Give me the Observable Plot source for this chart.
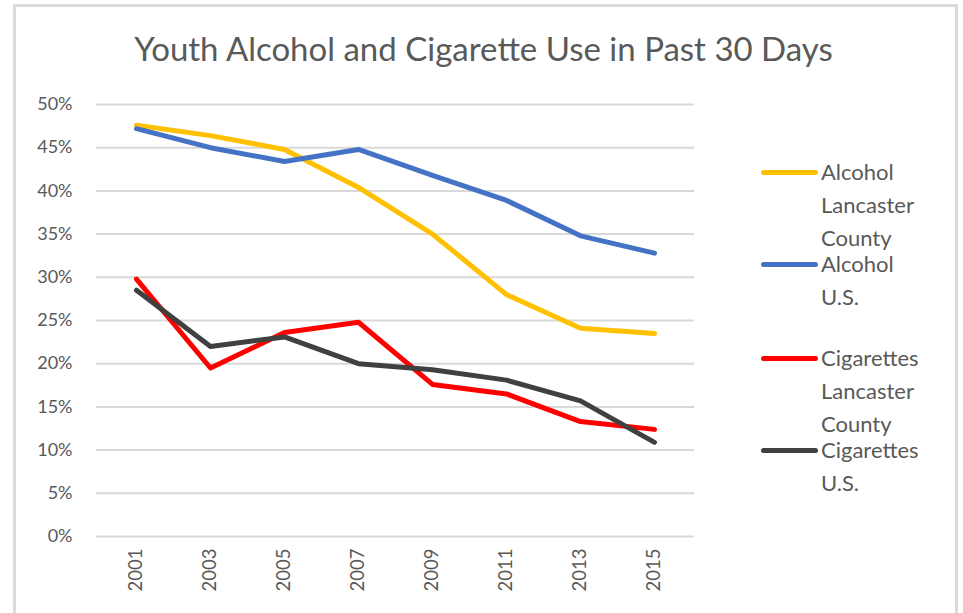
<!DOCTYPE html>
<html><head><meta charset="utf-8">
<script src="https://cdn.jsdelivr.net/npm/d3@7"></script>
<script src="https://cdn.jsdelivr.net/npm/@observablehq/plot@0.6"></script>
<style>
html,body{margin:0;padding:0;width:963px;height:613px;overflow:hidden;background:#fff;font-family:Lato,"Open Sans",sans-serif;}
#frame{position:absolute;left:13px;top:4px;width:939px;height:700px;border:3px solid #dadada;border-bottom:none;}
#title{position:absolute;left:2px;width:963px;top:32px;line-height:33px;text-align:center;font-size:33px;color:#595959;white-space:nowrap;}
#chart{position:absolute;left:0;top:0;}
.leg{position:absolute;left:761px;}
.leg .sw{position:absolute;left:0;width:57px;height:5px;border-radius:3px;}
.leg .tx{position:absolute;left:60px;font-size:22px;line-height:33px;color:#595959;white-space:pre;}
</style></head><body>
<div id="frame"></div>
<div id="chart"></div>
<div id="title">Youth Alcohol and Cigarette Use in Past 30 Days</div>
<div id="legend"></div>
<script>
const years = ["2001","2003","2005","2007","2009","2011","2013","2015"];
const alcoholLancaster = [47.6,46.4,44.8,40.4,35.0,28.0,24.1,23.5];
const alcoholUS = [47.2,45.0,43.4,44.8,41.8,38.9,34.8,32.8];
const cigarettesLancaster = [29.8,19.5,23.6,24.8,17.6,16.5,13.3,12.4];
const cigarettesUS = [28.5,22.0,23.1,20.0,19.3,18.1,15.7,10.9];
const seriesNames = ["Alcohol\nLancaster\nCounty","Alcohol\nU.S.","Cigarettes\nLancaster\nCounty","Cigarettes\nU.S."];
const seriesColors = ["#FFC000","#4472C4","#FF0000","#404040"];
const yTicks = [0,5,10,15,20,25,30,35,40,45,50];

const seriesValues = [alcoholLancaster, alcoholUS, cigarettesLancaster, cigarettesUS];
const data = [];
seriesNames.forEach((s,i)=>years.forEach((y,j)=>data.push({series:s, year:y, value:seriesValues[i][j]})));

const chart = Plot.plot({
  width:963, height:613,
  marginLeft:96, marginRight:269, marginTop:104, marginBottom:77,
  style:{fontFamily:"Lato, 'Open Sans', sans-serif", background:"transparent"},
  x:{type:"point", domain:years, padding:0.5},
  y:{domain:[0,50]},
  color:{domain:seriesNames, range:seriesColors},
  marks:[
    Plot.gridY(yTicks,{stroke:"#d9d9d9", strokeOpacity:1, strokeWidth:2}),
    Plot.axisY(yTicks,{tickSize:0, tickPadding:24, tickFormat:d=>d+"%", fontSize:18, fill:"#595959", label:null}),
    Plot.axisX({tickSize:0, tickRotate:-90, tickPadding:12, fontSize:18.5, fill:"#595959", label:null}),
    Plot.lineY(data,{x:"year", y:"value", z:"series", stroke:"series", strokeWidth:5, strokeLinejoin:"round", strokeLinecap:"round"})
  ]
});
document.getElementById("chart").appendChild(chart);

const legendTops = [155,247,341,433];
const leg = d3.select("#legend");
seriesNames.forEach((s,i)=>{
  const e = leg.append("div").attr("class","leg").style("top", legendTops[i]+"px");
  e.append("div").attr("class","sw").style("top","15px").style("background", seriesColors[i]);
  e.append("div").attr("class","tx").style("top","0px").text(s);
});
</script>
</body></html>
